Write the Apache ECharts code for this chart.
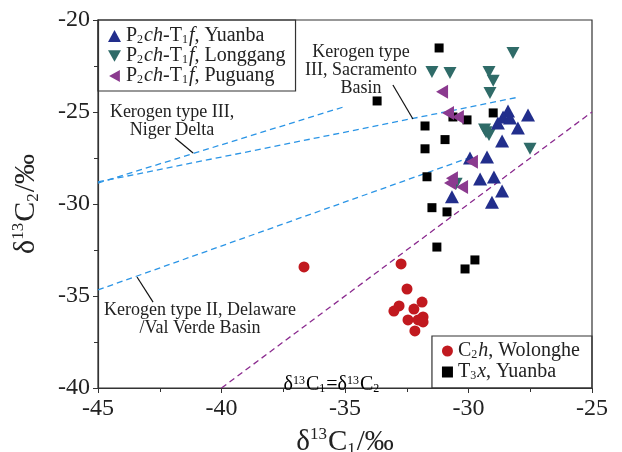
<!DOCTYPE html>
<html>
<head>
<meta charset="utf-8">
<script src="https://cdn.jsdelivr.net/npm/echarts@6/dist/echarts.min.js"></script>
<style>
  html, body { margin: 0; padding: 0; background: #fff; }
  #chart { width: 622px; height: 452px; }
</style>
</head>
<body>
<div id="chart"></div>
<script>
// 数据 (δ13C1, δ13C2)
var yuanbaP2 = [[-28.4,-24.95],[-28.6,-25.27],[-28.32,-25.33],[-28.81,-25.6],[-27.59,-25.16],[-28.0,-25.87],
  [-28.64,-26.58],[-29.25,-27.45],[-29.94,-27.5],[-29.53,-28.64],[-28.97,-28.53],[-28.64,-29.3],[-30.67,-29.6],[-29.05,-29.9]];
var longgang = [[-28.2,-21.8],[-31.48,-22.83],[-30.75,-22.88],[-29.17,-22.83],[-29.0,-23.3],[-29.13,-23.97],
  [-29.35,-25.95],[-29.29,-26.1],[-29.17,-26.25],[-27.51,-27.0],[-30.5,-28.9]];
var puguang = [[-31.07,-23.9],[-30.83,-25.05],[-30.43,-25.27],[-29.86,-27.7],[-30.67,-28.6],[-30.75,-28.86],[-30.26,-29.08]];
var wolonghe = [[-36.66,-33.42],[-32.73,-33.26],[-32.49,-34.62],[-32.81,-35.54],[-33.02,-35.82],[-31.88,-35.33],
  [-32.21,-35.71],[-31.84,-36.14],[-32.45,-36.3],[-32.04,-36.3],[-31.84,-36.41],[-32.17,-36.9]];
var yuanbaT3 = [[-31.19,-21.52],[-33.7,-24.4],[-31.76,-25.76],[-30.63,-25.27],[-30.06,-25.43],[-29.0,-25.05],
  [-30.95,-26.5],[-31.76,-27.0],[-31.68,-28.52],[-31.48,-30.2],[-30.87,-30.43],[-31.28,-32.34],[-29.74,-33.04],[-30.14,-33.53]];

// 参考线
var nigerDelta = [[-45,-28.86],[-35,-24.7]];
var sacramento = [[-45,-28.8],[-28,-24.2]];
var delaware = [[-45,-34.67],[-30,-27.5]];
var equalLine = [[-40,-40],[-25,-25]];

var xTicks = [-45, -25, 5];
var yTicks = [-40, -20, 5];

var serif = '"Liberation Serif", "DejaVu Serif", serif';
var downTri = 'path://M0,0 L10,0 L5,9 Z';
var leftTri = 'path://M9,0 L9,10 L0,5 Z';

var richBase = function (size) {
  return {
    a: { fontFamily: serif, fontSize: size, color: '#222' },
    i: { fontFamily: serif, fontSize: size, fontStyle: 'italic', color: '#222' },
    sub: { fontFamily: serif, fontSize: Math.round(size * 0.58), color: '#222', verticalAlign: 'bottom', padding: [0, 1, 0, 0] },
    sup: { fontFamily: serif, fontSize: Math.round(size * 0.58), color: '#222', verticalAlign: 'top', padding: [0, 1, 0, 0] }
  };
};

var legendNames = {
  'Yuanba': '{a|P}{sub|2}{i|ch}{a|-T}{sub|1}{i|f}{a|, Yuanba}',
  'Longgang': '{a|P}{sub|2}{i|ch}{a|-T}{sub|1}{i|f}{a|, Longgang}',
  'Puguang': '{a|P}{sub|2}{i|ch}{a|-T}{sub|1}{i|f}{a|, Puguang}',
  'Wolonghe': '{a|C}{sub|2}{i|h}{a|, Wolonghe}',
  'T3x': '{a|T}{sub|3}{i|x}{a|, Yuanba}'
};

var myChart = echarts.init(document.getElementById('chart'));

function dashLine(data, color) {
  return {
    type: 'line', data: data, symbol: 'none', silent: true, z: 1,
    lineStyle: { color: color, width: 1.3, type: [6, 4] }
  };
}

var option = {
  animation: false,
  grid: { left: 98, right: 30, top: 20, bottom: 64, outerBoundsMode: 'none', containLabel: false,
    show: true, borderColor: '#333', borderWidth: 1.2 },
  legend: [
    {
      data: ['Yuanba', 'Longgang', 'Puguang'],
      orient: 'vertical', left: 98, top: 20,
      borderColor: '#333', borderWidth: 1.2, padding: [6, 10, 5, 10], itemGap: 0,
      itemWidth: 13, itemHeight: 12,
      formatter: function (n) { return legendNames[n]; },
      textStyle: { rich: richBase(20), lineHeight: 19 }
    },
    {
      data: ['Wolonghe', 'T3x'],
      orient: 'vertical', right: 30, bottom: 64,
      borderColor: '#333', borderWidth: 1.2, padding: [5, 12, 6, 10], itemGap: 1,
      itemWidth: 11, itemHeight: 11,
      formatter: function (n) { return legendNames[n]; },
      textStyle: { rich: richBase(20), lineHeight: 20 }
    }
  ],
  xAxis: {
    type: 'value', min: xTicks[0], max: xTicks[1], interval: xTicks[2],
    name: '{a|δ}{sup|13}{a|C}{sub|1}{a|/‰}',
    nameLocation: 'middle', nameGap: 32,
    nameTextStyle: { rich: richBase(29), lineHeight: 32 },
    axisLine: { onZero: false, lineStyle: { color: '#333', width: 1.2 } },
    axisTick: { length: 5, lineStyle: { color: '#333' } },
    minorTick: { show: true, splitNumber: 2, length: 4, lineStyle: { color: '#333' } },
    splitLine: { show: false },
    axisLabel: { fontFamily: serif, fontSize: 24, color: '#222', margin: 9 }
  },
  yAxis: {
    type: 'value', min: yTicks[0], max: yTicks[1], interval: yTicks[2],
    name: '{a|δ}{sup|13}{a|C}{sub|2}{a|/‰}',
    nameLocation: 'middle', nameGap: 56, nameRotate: 90,
    nameTextStyle: { rich: richBase(30), lineHeight: 32 },
    axisLine: { onZero: false, lineStyle: { color: '#333', width: 1.2 } },
    axisTick: { length: 5, lineStyle: { color: '#333' } },
    minorTick: { show: true, splitNumber: 2, length: 4, lineStyle: { color: '#333' } },
    splitLine: { show: false },
    axisLabel: { fontFamily: serif, fontSize: 24, color: '#222', margin: 8 }
  },
  series: [
    dashLine(nigerDelta, '#2b95e6'),
    dashLine(sacramento, '#2b95e6'),
    dashLine(delaware, '#2b95e6'),
    dashLine(equalLine, '#8b2b8f'),
    { name: 'Wolonghe', type: 'scatter', data: wolonghe, symbol: 'circle', symbolSize: 11,
      itemStyle: { color: '#c1191f', opacity: 1 }, z: 3 },
    { name: 'T3x', type: 'scatter', data: yuanbaT3, symbol: 'rect', symbolSize: 9,
      itemStyle: { color: '#000', opacity: 1 }, z: 3 },
    { name: 'Longgang', type: 'scatter', data: longgang, symbol: downTri, symbolSize: [13, 12],
      itemStyle: { color: '#2f6b68', opacity: 1 }, z: 4 },
    { name: 'Yuanba', type: 'scatter', data: yuanbaP2, symbol: 'triangle', symbolSize: [14, 13],
      itemStyle: { color: '#222e8c', opacity: 1 }, z: 4 },
    { name: 'Puguang', type: 'scatter', data: puguang, symbol: leftTri, symbolSize: [12, 14],
      itemStyle: { color: '#8b3a8f', opacity: 1 }, z: 5 }
  ]
};
myChart.setOption(option);

// 注释文字和引线（以数据坐标定位）
function px(p) { return myChart.convertToPixel({ gridIndex: 0 }, p); }
var notes = [
  { at: [-42.0, -25.49], text: 'Kerogen type III,\nNiger Delta' },
  { at: [-40.87, -36.25], text: 'Kerogen type II, Delaware\n/Val Verde Basin' },
  { at: [-34.35, -22.72], text: 'Kerogen type\nIII, Sacramento\nBasin' }
];
var leaders = [
  [[-41.88, -26.41], [-41.15, -27.23]],
  [[-43.42, -33.97], [-42.77, -35.33]],
  [[-33.06, -23.53], [-32.25, -25.38]]
];
var graphics = [];
notes.forEach(function (n) {
  var p = px(n.at);
  graphics.push({
    type: 'text', x: p[0], y: p[1], z: 10,
    style: { text: n.text, font: '18px ' + serif, fill: '#222', align: 'center', verticalAlign: 'middle', lineHeight: 18 }
  });
});
leaders.forEach(function (l) {
  var a = px(l[0]), b = px(l[1]);
  graphics.push({ type: 'line', z: 10, shape: { x1: a[0], y1: a[1], x2: b[0], y2: b[1] }, style: { stroke: '#111', lineWidth: 1.2 } });
});
var eq = px([-35.53, -39.83]);
graphics.push({
  type: 'text', x: eq[0], y: eq[1], z: 10,
  style: {
    text: '{a|δ}{sup|13}{a|C}{sub|1}{a|=δ}{sup|13}{a|C}{sub|2}',
    rich: richBase(20), align: 'center', verticalAlign: 'middle'
  }
});
myChart.setOption({ graphic: graphics });
</script>
</body>
</html>
